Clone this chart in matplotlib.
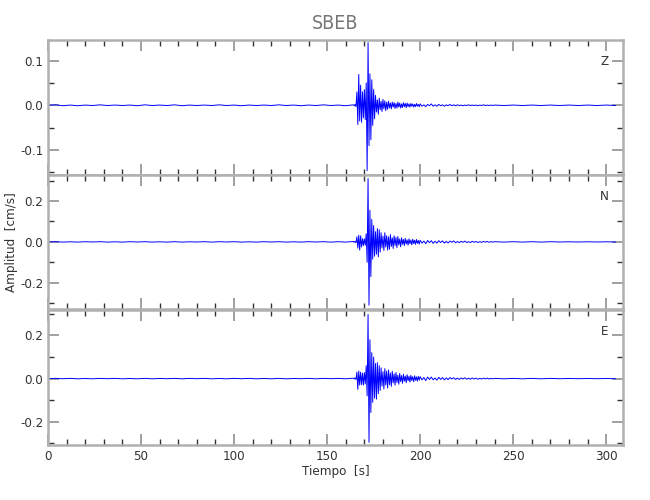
import numpy as np
import matplotlib
matplotlib.use("Agg")
import matplotlib.pyplot as plt
from matplotlib import font_manager
from matplotlib.ticker import MultipleLocator

# sample grids (s): quiet part, event window, coda, tail
t_pre = np.arange(0, 164, 4.0)
t_evt = np.arange(164, 200, 0.5)
t_coda = np.arange(200, 240, 1.0)
t_tail = np.arange(240, 310, 5.0)

# Z component [cm/s]
z_pre = [0.000, 0.001, -0.001, 0.0005, -0.001, 0.0005, -0.0005, 0.001, -0.0005, 0.0005,
         -0.0005, 0.0005, -0.001, 0.001, -0.0005, 0.0005, -0.0005, 0.001, -0.001, 0.0005,
         -0.0005, 0.0005, -0.0005, 0.001, -0.0005, 0.0005, -0.001, 0.0005, -0.0005, 0.0005,
         -0.0005, 0.001, -0.0005, 0.0005, -0.001, 0.0005, -0.0005, 0.001, -0.0005, 0.0005, -0.001]
z_evt = [0.001, -0.001, 0.002, -0.003, 0.030, -0.043, 0.069, -0.035, 0.045, -0.038,
         0.030, -0.028, 0.035, -0.032, 0.050, -0.146, 0.140, -0.090, 0.070, -0.077,
         0.057, -0.045, 0.035, -0.030,
         0.022, -0.015, 0.012, -0.020, 0.016, -0.010, 0.009, -0.014, 0.013, -0.008,
         0.010, -0.012, 0.007, -0.009, 0.009, -0.006, 0.005, -0.008, 0.007, -0.004,
         0.006, -0.007, 0.004, -0.006, 0.007, -0.004, 0.005, -0.006, 0.003, -0.005,
         0.006, -0.003, 0.004, -0.005, 0.005, -0.003, 0.003, -0.004, 0.004, -0.002,
         0.003, -0.004, 0.002, -0.003, 0.004, -0.002, 0.002, -0.003]
z_coda = [0.003, -0.002, 0.001, -0.003, 0.002, -0.001, 0.003, -0.002, 0.001, -0.002,
          0.002, -0.001, 0.001, -0.002, 0.001, -0.001, 0.002, -0.001, 0.001, -0.001,
          0.001, -0.0005, 0.0005, -0.001, 0.0005, -0.0005, 0.001, -0.0005, 0.0005, -0.0005,
          0.0005, -0.001, 0.0005, -0.0005, 0.001, -0.0005, 0.0005, -0.0005, 0.0005, -0.0005]
z_tail = [0.0005, -0.0005, 0.0005, -0.0005, 0.0005, -0.0005, 0.0005,
          -0.0005, 0.0005, -0.0005, 0.0005, -0.0005, 0.0005, -0.0005]

# N component [cm/s]
n_pre = [0.000, 0.001, -0.001, 0.0005, -0.001, 0.001, -0.0005, 0.001, -0.001, 0.0005,
         -0.001, 0.001, -0.0005, 0.001, -0.001, 0.0005, -0.001, 0.001, -0.001, 0.0005,
         -0.0005, 0.001, -0.001, 0.001, -0.0005, 0.001, -0.001, 0.0005, -0.001, 0.001,
         -0.0005, 0.001, -0.001, 0.0005, -0.001, 0.001, -0.0005, 0.001, -0.001, 0.001, -0.001]
n_evt = [0.002, -0.002, 0.003, -0.004, 0.025, -0.030, 0.033, -0.040, 0.030, -0.025,
         0.016, -0.018, 0.015, -0.016, 0.040, -0.100, 0.310, -0.310, 0.155, -0.170,
         0.110, -0.085, 0.080, -0.070, 0.050, -0.060, 0.065, -0.073, 0.060, -0.050,
         0.045, -0.030, 0.028, -0.042, 0.045, -0.025, 0.030, -0.040, 0.025, -0.036,
         0.036, -0.022, 0.020, -0.032, 0.030, -0.018, 0.022, -0.028, 0.026, -0.015,
         0.014, -0.024, 0.020, -0.012, 0.012, -0.018, 0.017, -0.010, 0.010, -0.016,
         0.015, -0.009, 0.009, -0.014, 0.013, -0.008, 0.008, -0.012, 0.012, -0.007,
         0.007, -0.011]
n_coda = [0.008, -0.006, 0.004, -0.009, 0.007, -0.004, 0.006, -0.007, 0.003, -0.006,
          0.006, -0.003, 0.005, -0.006, 0.002, -0.005, 0.004, -0.002, 0.005, -0.004,
          0.002, -0.004, 0.003, -0.002, 0.004, -0.003, 0.001, -0.003, 0.003, -0.002,
          0.002, -0.003, 0.001, -0.002, 0.002, -0.001, 0.002, -0.002, 0.001, -0.001]
n_tail = [0.001, -0.001, 0.001, -0.001, 0.001, -0.001, 0.001,
          -0.0005, 0.0005, -0.0005, 0.0005, -0.0005, 0.0005, -0.0005]

# E component [cm/s]
e_pre = [0.000, 0.001, -0.0005, 0.001, -0.001, 0.0005, -0.001, 0.001, -0.0005, 0.001,
         -0.001, 0.0005, -0.001, 0.001, -0.001, 0.0005, -0.0005, 0.001, -0.001, 0.001,
         -0.0005, 0.001, -0.001, 0.0005, -0.001, 0.001, -0.0005, 0.001, -0.001, 0.0005,
         -0.001, 0.001, -0.001, 0.0005, -0.0005, 0.001, -0.001, 0.001, -0.0005, 0.001, -0.001]
e_evt = [0.002, -0.002, 0.003, -0.004, 0.030, -0.050, 0.035, -0.030, 0.030, -0.028,
         0.025, -0.030, 0.028, -0.025, 0.060, -0.080, 0.297, -0.295, 0.180, -0.157,
         0.120, -0.110, 0.100, -0.090, 0.070, -0.095, 0.074, -0.070, 0.060, -0.055,
         0.050, -0.035, 0.032, -0.048, 0.046, -0.030, 0.035, -0.044, 0.040, -0.028,
         0.026, -0.036, 0.034, -0.020, 0.022, -0.030, 0.028, -0.018, 0.016, -0.026,
         0.024, -0.014, 0.014, -0.022, 0.020, -0.012, 0.012, -0.019, 0.018, -0.010,
         0.011, -0.016, 0.015, -0.009, 0.009, -0.014, 0.013, -0.008, 0.008, -0.012,
         0.011, -0.007]
e_coda = [0.009, -0.006, 0.005, -0.009, 0.007, -0.004, 0.007, -0.006, 0.003, -0.007,
          0.006, -0.004, 0.005, -0.006, 0.003, -0.005, 0.005, -0.002, 0.004, -0.004,
          0.002, -0.004, 0.003, -0.002, 0.004, -0.003, 0.002, -0.003, 0.003, -0.002,
          0.002, -0.003, 0.001, -0.002, 0.002, -0.001, 0.002, -0.002, 0.001, -0.001]
e_tail = [0.001, -0.001, 0.001, -0.001, 0.001, -0.001, 0.001,
          -0.0005, 0.0005, -0.0005, 0.0005, -0.0005, 0.0005, -0.0005]

components = ["Z", "N", "E"]
ylims = [(-0.155, 0.146), (-0.33, 0.33), (-0.306, 0.318)]
ymajor = [0.1, 0.2, 0.2]
yminor = [0.05, 0.1, 0.1]

# narrow face if one is installed, else DejaVu Sans
family, stretch = "DejaVu Sans", "normal"
for f in font_manager.fontManager.ttflist:
    if ("Condensed" in f.fname or "Narrow" in f.fname) and f.style == "normal" \
            and f.weight in (400, "normal", "regular"):
        family, stretch = f.name, f.stretch
        break
plt.rcParams['font.family'] = family
plt.rcParams['font.stretch'] = stretch

t_all = np.concatenate([t_pre, t_evt, t_coda, t_tail])
traces = [np.concatenate([z_pre, z_evt, z_coda, z_tail]),
          np.concatenate([n_pre, n_evt, n_coda, n_tail]),
          np.concatenate([e_pre, e_evt, e_coda, e_tail])]

fig = plt.figure(figsize=(6.5, 5), dpi=100)
left, width = 48 / 650, (623 - 48) / 650
bottoms = [1 - 174.7 / 500, 1 - 309.3 / 500, 1 - 444.7 / 500]
height = 134.8 / 500

axes = []
for i in range(3):
    ax = fig.add_axes([left, bottoms[i], width, height])
    ax.plot(t_all, traces[i], color='#0000ff', lw=0.7)
    ax.set_xlim(0, 309)
    ax.set_ylim(*ylims[i])
    ax.xaxis.set_major_locator(MultipleLocator(50))
    ax.xaxis.set_minor_locator(MultipleLocator(10))
    ax.yaxis.set_major_locator(MultipleLocator(ymajor[i]))
    ax.yaxis.set_minor_locator(MultipleLocator(yminor[i]))
    ax.tick_params(which='both', direction='in', top=True, right=True,
                   labelsize=9.5, labelcolor='#333333')
    ax.tick_params(which='major', length=8, width=1.4, color='#a0a0a0')
    ax.tick_params(which='minor', length=4, width=1.0, color='#333333')
    for s in ax.spines.values():
        s.set_color('#b0b0b0')
        s.set_linewidth(1.8)
    ax.yaxis.set_major_formatter(plt.FuncFormatter(lambda v, p: f"{v:.1f}"))
    ax.text(0.975, 0.84, components[i], transform=ax.transAxes, ha='right',
            va='center', fontsize=9.5, color='#333333')
    if i < 2:
        ax.tick_params(labelbottom=False)
    axes.append(ax)

axes[0].set_title("SBEB", fontsize=14, color='#777777', pad=8)
axes[2].set_xlabel("Tiempo  [s]", fontsize=9.5, color='#333333', labelpad=2)
fig.text(0.018, 0.516, "Amplitud  [cm/s]", rotation=90, ha='center', va='center',
         fontsize=9.5, color='#333333')

fig.savefig("out.png", dpi=100)
